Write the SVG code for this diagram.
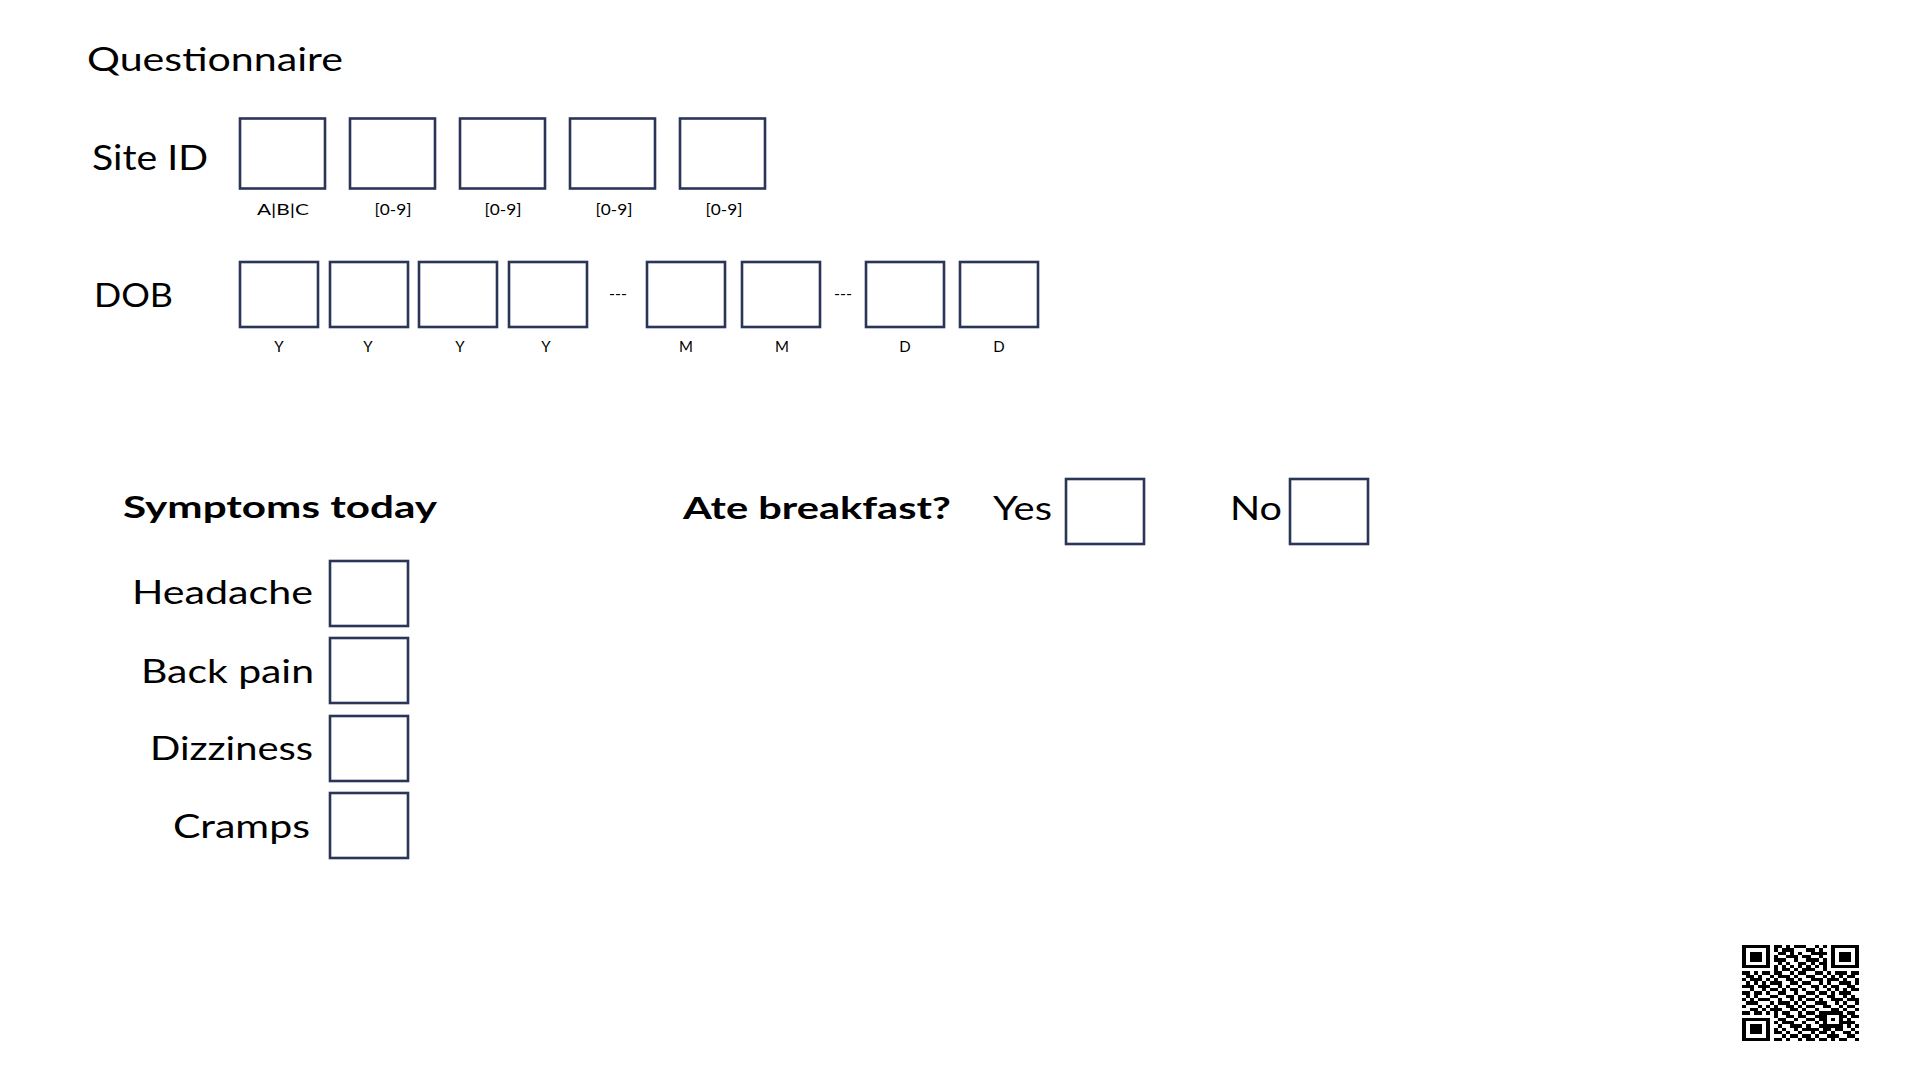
<svg xmlns="http://www.w3.org/2000/svg" width="1922" height="1092" viewBox="0 0 1922 1092">
<style>
.bx{fill:#fff;stroke:#2b3557;stroke-width:2.6}
.t{font-family:Lato,"Open Sans","Liberation Sans",sans-serif;fill:#000}
.b{font-weight:bold}
.sm{font-size:15px;text-anchor:middle}
.lb{font-size:32px}
</style>
<rect width="1922" height="1092" fill="#fff"/>
<g id="title"><text class="t" x="87" y="71" font-size="33" textLength="256" lengthAdjust="spacingAndGlyphs">Questionnaire</text></g>
<g id="site-id">
<text class="t" x="92" y="170" font-size="35" textLength="116" lengthAdjust="spacingAndGlyphs">Site ID</text>
<rect class="bx" x="240" y="118.5" width="85" height="70"/>
<rect class="bx" x="350" y="118.5" width="85" height="70"/>
<rect class="bx" x="460" y="118.5" width="85" height="70"/>
<rect class="bx" x="570" y="118.5" width="85" height="70"/>
<rect class="bx" x="680" y="118.5" width="85" height="70"/>
<text class="t sm" x="283" y="215" textLength="52" lengthAdjust="spacingAndGlyphs">A|B|C</text>
<text class="t sm" x="393" y="215" textLength="37" lengthAdjust="spacingAndGlyphs">[0-9]</text>
<text class="t sm" x="503" y="215" textLength="37" lengthAdjust="spacingAndGlyphs">[0-9]</text>
<text class="t sm" x="614" y="215" textLength="37" lengthAdjust="spacingAndGlyphs">[0-9]</text>
<text class="t sm" x="724" y="215" textLength="37" lengthAdjust="spacingAndGlyphs">[0-9]</text>
</g>
<g id="dob">
<text class="t" x="94" y="307" font-size="32" textLength="79" lengthAdjust="spacingAndGlyphs">DOB</text>
<rect class="bx" x="240" y="262" width="78" height="65"/>
<rect class="bx" x="330" y="262" width="78" height="65"/>
<rect class="bx" x="419" y="262" width="78" height="65"/>
<rect class="bx" x="509" y="262" width="78" height="65"/>
<rect class="bx" x="647" y="262" width="78" height="65"/>
<rect class="bx" x="742" y="262" width="78" height="65"/>
<rect class="bx" x="866" y="262" width="78" height="65"/>
<rect class="bx" x="960" y="262" width="78" height="65"/>
<text class="t sm" x="618" y="299" textLength="18" lengthAdjust="spacingAndGlyphs">---</text>
<text class="t sm" x="843" y="299" textLength="18" lengthAdjust="spacingAndGlyphs">---</text>
<text class="t sm" x="279" y="352">Y</text>
<text class="t sm" x="368" y="352">Y</text>
<text class="t sm" x="460" y="352">Y</text>
<text class="t sm" x="546" y="352">Y</text>
<text class="t sm" x="686" y="352">M</text>
<text class="t sm" x="782" y="352">M</text>
<text class="t sm" x="905" y="352">D</text>
<text class="t sm" x="999" y="352">D</text>
</g>
<g id="symptoms">
<text class="t b" x="123" y="518" font-size="30" textLength="314" lengthAdjust="spacingAndGlyphs">Symptoms today</text>
</g>
<g id="headache">
<text class="t lb" x="132" y="604" textLength="181" lengthAdjust="spacingAndGlyphs">Headache</text>
<rect class="bx" x="330" y="561" width="78" height="65"/>
</g>
<g id="back-pain">
<text class="t lb" x="141" y="683" textLength="173" lengthAdjust="spacingAndGlyphs">Back pain</text>
<rect class="bx" x="330" y="638" width="78" height="65"/>
</g>
<g id="dizziness">
<text class="t lb" x="150" y="760" textLength="163" lengthAdjust="spacingAndGlyphs">Dizziness</text>
<rect class="bx" x="330" y="716" width="78" height="65"/>
</g>
<g id="cramps">
<text class="t lb" x="173" y="838" textLength="137" lengthAdjust="spacingAndGlyphs">Cramps</text>
<rect class="bx" x="330" y="793" width="78" height="65"/>
</g>
<g id="breakfast">
<text class="t b" x="683" y="519" font-size="31" textLength="268" lengthAdjust="spacingAndGlyphs">Ate breakfast?</text>
</g>
<g id="yes">
<text class="t lb" x="993" y="520" textLength="59" lengthAdjust="spacingAndGlyphs">Yes</text>
<rect class="bx" x="1066" y="479" width="78" height="65"/>
</g>
<g id="no">
<text class="t lb" x="1230" y="520" textLength="52" lengthAdjust="spacingAndGlyphs">No</text>
<rect class="bx" x="1290" y="479" width="78" height="65"/>
</g>
<g id="qr" transform="translate(1742,945) scale(4.03,3.31)" shape-rendering="crispEdges">
<path fill="#000" fill-rule="evenodd" d="M0 0h7v7h-7z M1 1v5h5v-5z M2 2h3v3h-3z M22 0h7v7h-7z M23 1v5h5v-5z M24 2h3v3h-3z M0 22h7v7h-7z M1 23v5h5v-5z M2 24h3v3h-3z M20 20h5v5h-5z M21 21v3h3v-3z M22 22h1v1h-1z"/>
<path fill="#000" d="
M8 0h2v1h-2z M11 0h1v1h-1z M13 0h3v1h-3z M18 0h1v1h-1z M20 0h1v1h-1z
M8 1h1v1h-1z M10 1h3v1h-3z M16 1h2v1h-2z M19 1h1v1h-1z
M9 2h2v1h-2z M12 2h1v1h-1z M14 2h1v1h-1z M17 2h4v1h-4z
M8 3h1v1h-1z M11 3h3v1h-3z M15 3h2v1h-2z M19 3h1v1h-1z
M8 4h3v1h-3z M13 4h1v1h-1z M16 4h3v1h-3z M20 4h1v1h-1z
M9 5h1v1h-1z M11 5h1v1h-1z M14 5h2v1h-2z M17 5h1v1h-1z M19 5h2v1h-2z
M8 6h1v1h-1z M10 6h1v1h-1z M12 6h1v1h-1z M14 6h1v1h-1z M16 6h1v1h-1z M18 6h1v1h-1z M20 6h1v1h-1z
M8 7h1v1h-1z M10 7h2v1h-2z M13 7h1v1h-1z M15 7h3v1h-3z M20 7h1v1h-1z
M0 8h2v1h-2z M3 8h1v1h-1z M5 8h2v1h-2z M8 8h2v1h-2z M12 8h1v1h-1z M14 8h2v1h-2z M18 8h2v1h-2z M21 8h1v1h-1z M23 8h3v1h-3z M27 8h2v1h-2z
M1 9h2v1h-2z M4 9h1v1h-1z M7 9h1v1h-1z M9 9h3v1h-3z M13 9h1v1h-1z M16 9h2v1h-2z M20 9h1v1h-1z M22 9h1v1h-1z M24 9h1v1h-1z M26 9h2v1h-2z
M0 10h1v1h-1z M2 10h3v1h-3z M6 10h1v1h-1z M8 10h1v1h-1z M11 10h2v1h-2z M14 10h1v1h-1z M17 10h3v1h-3z M21 10h3v1h-3z M25 10h1v1h-1z M28 10h1v1h-1z
M1 11h1v1h-1z M3 11h1v1h-1z M5 11h1v1h-1z M7 11h3v1h-3z M12 11h2v1h-2z M15 11h2v1h-2z M19 11h1v1h-1z M21 11h1v1h-1z M24 11h3v1h-3z M28 11h1v1h-1z
M0 12h3v1h-3z M4 12h3v1h-3z M9 12h1v1h-1z M11 12h1v1h-1z M14 12h1v1h-1z M17 12h2v1h-2z M20 12h1v1h-1z M22 12h2v1h-2z M26 12h2v1h-2z
M2 13h1v1h-1z M5 13h1v1h-1z M7 13h2v1h-2z M10 13h1v1h-1z M12 13h2v1h-2z M15 13h1v1h-1z M18 13h1v1h-1z M21 13h1v1h-1z M23 13h1v1h-1z M25 13h1v1h-1z M27 13h2v1h-2z
M0 14h2v1h-2z M3 14h2v1h-2z M6 14h1v1h-1z M9 14h2v1h-2z M13 14h1v1h-1z M16 14h2v1h-2z M19 14h2v1h-2z M22 14h1v1h-1z M24 14h3v1h-3z
M1 15h1v1h-1z M3 15h1v1h-1z M7 15h2v1h-2z M11 15h2v1h-2z M14 15h2v1h-2z M18 15h1v1h-1z M21 15h2v1h-2z M25 15h1v1h-1z M27 15h1v1h-1z
M0 16h1v1h-1z M2 16h1v1h-1z M4 16h3v1h-3z M9 16h1v1h-1z M12 16h1v1h-1z M14 16h1v1h-1z M16 16h2v1h-2z M19 16h1v1h-1z M22 16h3v1h-3z M26 16h3v1h-3z
M1 17h3v1h-3z M7 17h1v1h-1z M9 17h3v1h-3z M13 17h1v1h-1z M15 17h1v1h-1z M18 17h3v1h-3z M23 17h1v1h-1z M25 17h1v1h-1z M28 17h1v1h-1z
M0 18h1v1h-1z M4 18h1v1h-1z M6 18h1v1h-1z M8 18h1v1h-1z M11 18h2v1h-2z M14 18h1v1h-1z M16 18h2v1h-2z M20 18h2v1h-2z M24 18h1v1h-1z M26 18h2v1h-2z
M2 19h2v1h-2z M5 19h1v1h-1z M7 19h3v1h-3z M12 19h2v1h-2z M15 19h1v1h-1z M18 19h1v1h-1z M22 19h2v1h-2z M25 19h1v1h-1z M28 19h1v1h-1z
M0 20h2v1h-2z M3 20h2v1h-2z M6 20h1v1h-1z M8 20h1v1h-1z M10 20h2v1h-2z M14 20h1v1h-1z M16 20h2v1h-2z M19 20h1v1h-1z M26 20h2v1h-2z
M8 21h1v1h-1z M11 21h2v1h-2z M14 21h2v1h-2z M18 21h2v1h-2z M25 21h1v1h-1z M27 21h2v1h-2z
M9 22h2v1h-2z M13 22h1v1h-1z M16 22h2v1h-2z M19 22h1v1h-1z M26 22h1v1h-1z
M8 23h1v1h-1z M10 23h3v1h-3z M15 23h1v1h-1z M18 23h1v1h-1z M25 23h3v1h-3z
M9 24h1v1h-1z M12 24h3v1h-3z M16 24h1v1h-1z M19 24h1v1h-1z M26 24h1v1h-1z M28 24h1v1h-1z
M8 25h1v1h-1z M10 25h1v1h-1z M13 25h1v1h-1z M15 25h4v1h-4z M20 25h2v1h-2z M23 25h2v1h-2z M27 25h1v1h-1z
M8 26h2v1h-2z M11 26h1v1h-1z M14 26h1v1h-1z M17 26h1v1h-1z M19 26h2v1h-2z M22 26h1v1h-1z M25 26h2v1h-2z M28 26h1v1h-1z
M10 27h1v1h-1z M12 27h2v1h-2z M15 27h2v1h-2z M18 27h1v1h-1z M21 27h3v1h-3z M26 27h2v1h-2z
M8 28h2v1h-2z M11 28h1v1h-1z M14 28h1v1h-1z M16 28h2v1h-2z M19 28h2v1h-2z M22 28h1v1h-1z M24 28h2v1h-2z M28 28h1v1h-1z"/>
</g>
</svg>
